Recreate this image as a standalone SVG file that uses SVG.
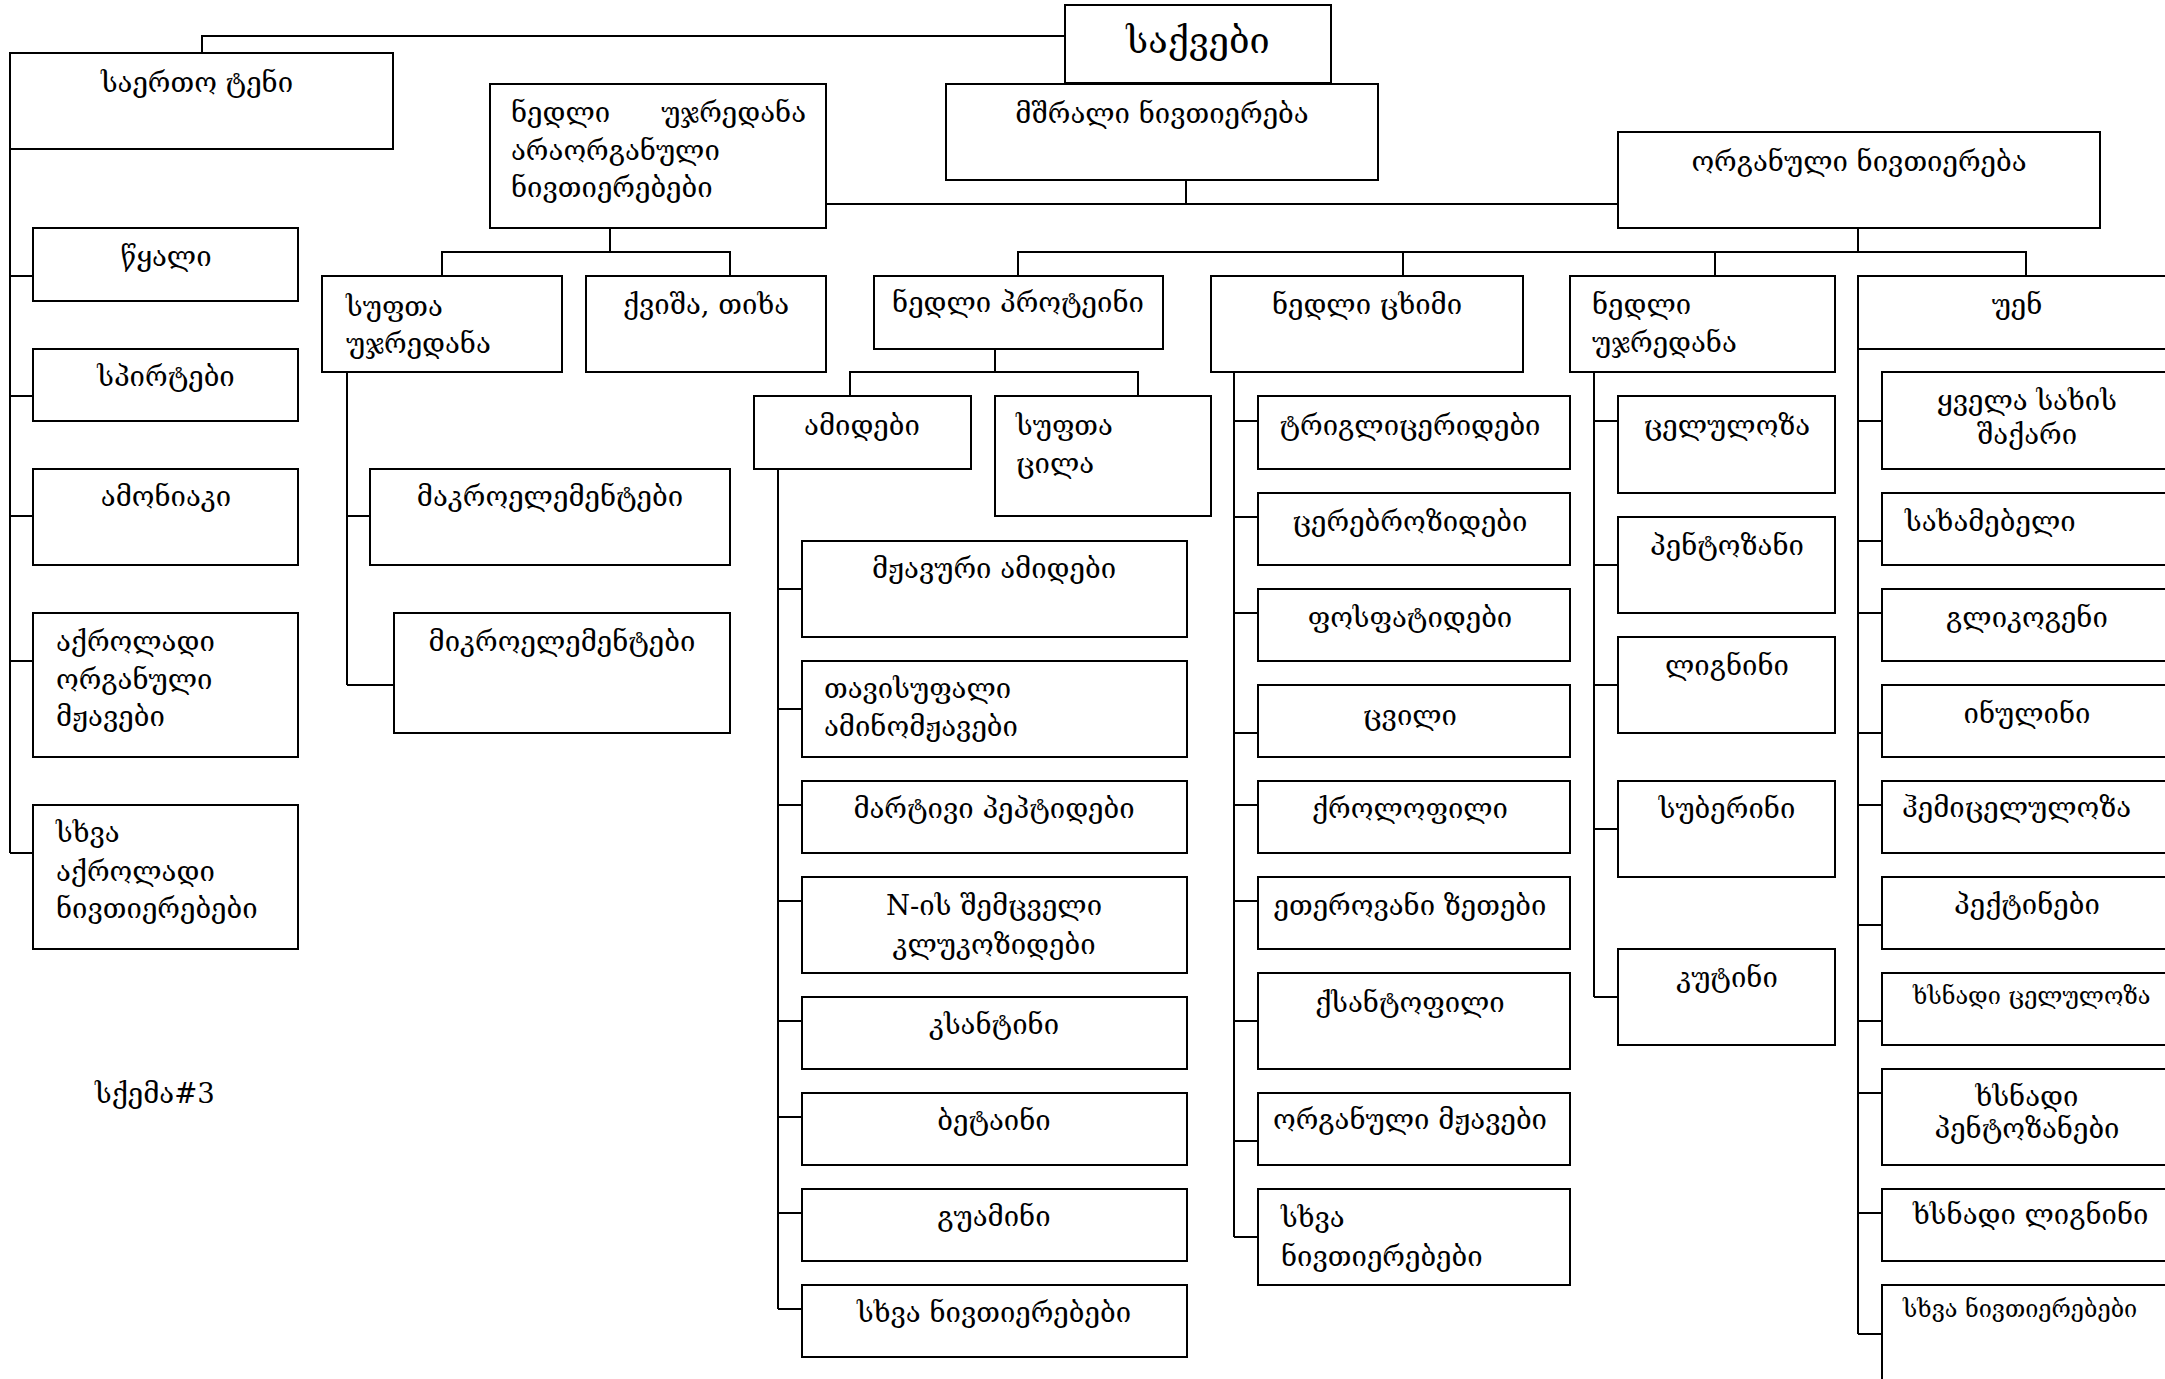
<svg xmlns="http://www.w3.org/2000/svg" width="2165" height="1379" viewBox="0 0 2165 1379">
<style>
rect{fill:#fff;stroke:#000;stroke-width:2}
#connectors path{fill:none;stroke:#000;stroke-width:2}
text{font-family:"DejaVu Serif","DejaVu Sans",serif;font-size:27.5px;fill:#000}
.c{text-anchor:middle}
.big{font-size:36px}
.sm{font-size:23.5px}
</style>
<rect x="0" y="0" width="2165" height="1379" style="stroke:none"/>
<g id="connectors">
<path d="M1065,36 H202 V53"/>
<path d="M10,149 V853 M10,276 H33 M10,396 H33 M10,516 H33 M10,661 H33 M10,853 H33"/>
<path d="M610,228 V252 M442,276 V252 H730 V276"/>
<path d="M826,204 H1618 M1186,180 V204"/>
<path d="M1858,228 V252 M1018,276 V252 H2026 V276 M1403,252 V276 M1715,252 V276"/>
<path d="M347,372 V685 M347,516 H370 M347,685 H394"/>
<path d="M995,349 V372 M850,396 V372 H1138 V396"/>
<path d="M778,469 V1309 M778,589 H802 M778,709 H802 M778,805 H802 M778,901 H802 M778,1021 H802 M778,1117 H802 M778,1213 H802 M778,1309 H802"/>
<path d="M1234,372 V1237 M1234,421 H1258 M1234,517 H1258 M1234,613 H1258 M1234,733 H1258 M1234,805 H1258 M1234,901 H1258 M1234,1021 H1258 M1234,1141 H1258 M1234,1237 H1258"/>
<path d="M1594,372 V997 M1594,421 H1618 M1594,565 H1618 M1594,685 H1618 M1594,829 H1618 M1594,997 H1618"/>
<path d="M1858,349 V1334 M1858,421 H1882 M1858,541 H1882 M1858,613 H1882 M1858,733 H1882 M1858,805 H1882 M1858,925 H1882 M1858,1021 H1882 M1858,1093 H1882 M1858,1213 H1882 M1858,1334 H1882"/>
</g>
<g id="root"><rect x="1065" y="5" width="266" height="78"/><text class="c big" x="1198" y="53">საქვები</text></g>
<g id="saerto"><rect x="10" y="53" width="383" height="96"/><text class="c" x="197" y="92">საერთო ტენი</text></g>
<g id="nedli-uxredana"><rect x="490" y="84" width="336" height="144"/><text x="511" y="122"><tspan x="511">ნედლი</tspan><tspan x="806" text-anchor="end">უჯრედანა</tspan></text><text x="511" y="160">არაორგანული</text><text x="511" y="197">ნივთიერებები</text></g>
<g id="mshrali"><rect x="946" y="84" width="432" height="96"/><text class="c" x="1162" y="123">მშრალი ნივთიერება</text></g>
<g id="organuli"><rect x="1618" y="132" width="482" height="96"/><text class="c" x="1859" y="171">ორგანული ნივთიერება</text></g>
<g id="tsqali"><rect x="33" y="228" width="265" height="73"/><text class="c" x="166" y="266">წყალი</text></g>
<g id="spirtebi"><rect x="33" y="349" width="265" height="72"/><text class="c" x="166" y="386">სპირტები</text></g>
<g id="amoniaki"><rect x="33" y="469" width="265" height="96"/><text class="c" x="166" y="506">ამონიაკი</text></g>
<g id="akroladi-mzhavebi"><rect x="33" y="613" width="265" height="144"/><text x="56" y="651">აქროლადი</text><text x="56" y="689">ორგანული</text><text x="56" y="726">მჟავები</text></g>
<g id="sxva-akroladi"><rect x="33" y="805" width="265" height="144"/><text x="56" y="842">სხვა</text><text x="56" y="881">აქროლადი</text><text x="56" y="918">ნივთიერებები</text></g>
<g id="sufta-uxredana"><rect x="322" y="276" width="240" height="96"/><text x="346" y="316">სუფთა</text><text x="346" y="353">უჯრედანა</text></g>
<g id="kvisha"><rect x="586" y="276" width="240" height="96"/><text class="c" x="706" y="314">ქვიშა, თიხა</text></g>
<g id="makro"><rect x="370" y="469" width="360" height="96"/><text class="c" x="550" y="506">მაკროელემენტები</text></g>
<g id="mikro"><rect x="394" y="613" width="336" height="120"/><text class="c" x="562" y="651">მიკროელემენტები</text></g>
<g id="nedli-proteini"><rect x="874" y="276" width="289" height="73"/><text class="c" x="1018" y="312">ნედლი პროტეინი</text></g>
<g id="nedli-tskhimi"><rect x="1211" y="276" width="312" height="96"/><text class="c" x="1367" y="314">ნედლი ცხიმი</text></g>
<g id="nedli-uxredana2"><rect x="1570" y="276" width="265" height="96"/><text x="1592" y="314">ნედლი</text><text x="1592" y="352">უჯრედანა</text></g>
<g id="uen"><rect x="1858" y="276" width="320" height="73"/><text class="c" x="2017" y="314">უენ</text></g>
<g id="amidebi"><rect x="754" y="396" width="217" height="73"/><text class="c" x="862" y="435">ამიდები</text></g>
<g id="sufta-tsila"><rect x="995" y="396" width="216" height="120"/><text x="1016" y="435">სუფთა</text><text x="1016" y="473">ცილა</text></g>
<g id="mzhavuri-amidebi"><rect x="802" y="541" width="385" height="96"/><text class="c" x="994" y="578">მჟავური ამიდები</text></g>
<g id="tavisufali"><rect x="802" y="661" width="385" height="96"/><text x="824" y="698">თავისუფალი</text><text x="824" y="736">ამინომჟავები</text></g>
<g id="martivi"><rect x="802" y="781" width="385" height="72"/><text class="c" x="994" y="818">მარტივი პეპტიდები</text></g>
<g id="n-is"><rect x="802" y="877" width="385" height="96"/><text class="c" x="994" y="915">N-ის შემცველი</text><text class="c" x="994" y="954">კლუკოზიდები</text></g>
<g id="ksantini"><rect x="802" y="997" width="385" height="72"/><text class="c" x="994" y="1034">კსანტინი</text></g>
<g id="betaini"><rect x="802" y="1093" width="385" height="72"/><text class="c" x="994" y="1130">ბეტაინი</text></g>
<g id="guamini"><rect x="802" y="1189" width="385" height="72"/><text class="c" x="994" y="1226">გუამინი</text></g>
<g id="sxva1"><rect x="802" y="1285" width="385" height="72"/><text class="c" x="994" y="1322">სხვა ნივთიერებები</text></g>
<g id="triglic"><rect x="1258" y="396" width="312" height="73"/><text class="c" x="1410" y="435">ტრიგლიცერიდები</text></g>
<g id="cerebro"><rect x="1258" y="493" width="312" height="72"/><text class="c" x="1410" y="531">ცერებროზიდები</text></g>
<g id="fosfat"><rect x="1258" y="589" width="312" height="72"/><text class="c" x="1410" y="627">ფოსფატიდები</text></g>
<g id="tsvili"><rect x="1258" y="685" width="312" height="72"/><text class="c" x="1410" y="725">ცვილი</text></g>
<g id="kloro"><rect x="1258" y="781" width="312" height="72"/><text class="c" x="1410" y="818">ქროლოფილი</text></g>
<g id="eterov"><rect x="1258" y="877" width="312" height="72"/><text class="c" x="1410" y="915">ეთეროვანი ზეთები</text></g>
<g id="ksanto"><rect x="1258" y="973" width="312" height="96"/><text class="c" x="1410" y="1012">ქსანტოფილი</text></g>
<g id="org-mzhav"><rect x="1258" y="1093" width="312" height="72"/><text class="c" x="1410" y="1129">ორგანული მჟავები</text></g>
<g id="sxva2"><rect x="1258" y="1189" width="312" height="96"/><text x="1281" y="1227">სხვა</text><text x="1281" y="1266">ნივთიერებები</text></g>
<g id="celuloza"><rect x="1618" y="396" width="217" height="97"/><text class="c" x="1727" y="435">ცელულოზა</text></g>
<g id="pentozani"><rect x="1618" y="517" width="217" height="96"/><text class="c" x="1727" y="555">პენტოზანი</text></g>
<g id="lignini"><rect x="1618" y="637" width="217" height="96"/><text class="c" x="1727" y="675">ლიგნინი</text></g>
<g id="suberini"><rect x="1618" y="781" width="217" height="96"/><text class="c" x="1727" y="818">სუბერინი</text></g>
<g id="kutini"><rect x="1618" y="949" width="217" height="96"/><text class="c" x="1727" y="987">კუტინი</text></g>
<g id="qvela"><rect x="1882" y="372" width="295" height="97"/><text class="c" x="2027" y="410">ყველა სახის</text><text class="c" x="2027" y="444">შაქარი</text></g>
<g id="saxamebeli"><rect x="1882" y="493" width="295" height="72"/><text x="1905" y="531">სახამებელი</text></g>
<g id="glikogeni"><rect x="1882" y="589" width="295" height="72"/><text class="c" x="2027" y="627">გლიკოგენი</text></g>
<g id="inulini"><rect x="1882" y="685" width="295" height="72"/><text class="c" x="2027" y="723">ინულინი</text></g>
<g id="hemiceluloza"><rect x="1882" y="781" width="295" height="72"/><text x="1902" y="817">ჰემიცელულოზა</text></g>
<g id="pektinebi"><rect x="1882" y="877" width="295" height="72"/><text class="c" x="2027" y="914">პექტინები</text></g>
<g id="xsnadi-celuloza"><rect x="1882" y="973" width="295" height="72"/><text class="sm" x="1913" y="1004">ხსნადი ცელულოზა</text></g>
<g id="xsnadi-pentozanebi"><rect x="1882" y="1069" width="295" height="96"/><text class="c" x="2027" y="1106">ხსნადი</text><text class="c" x="2027" y="1138">პენტოზანები</text></g>
<g id="xsnadi-lignini"><rect x="1882" y="1189" width="295" height="72"/><text x="1913" y="1224">ხსნადი ლიგნინი</text></g>
<g id="sxva3"><rect x="1882" y="1285" width="295" height="120"/><text class="sm" x="1903" y="1317">სხვა ნივთიერებები</text></g>
<g id="caption"><text x="95" y="1103">სქემა#3</text></g>
</svg>
